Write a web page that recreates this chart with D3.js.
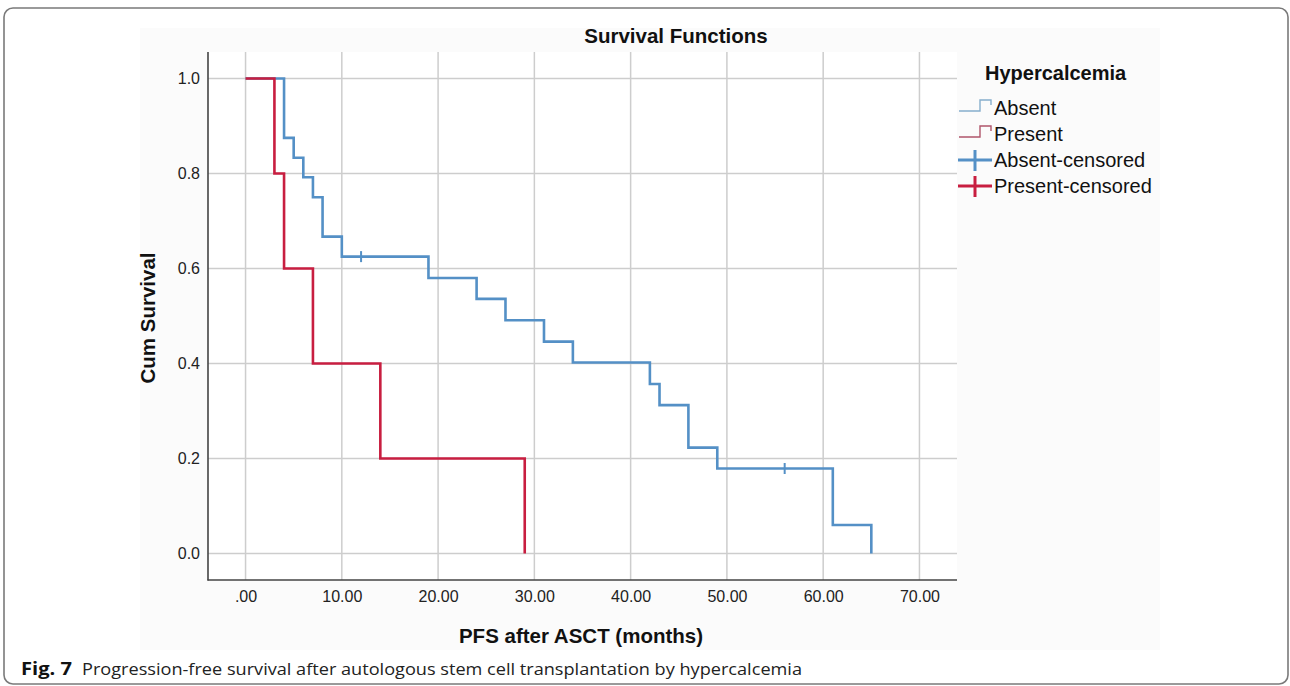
<!DOCTYPE html>
<html>
<head>
<meta charset="utf-8">
<script src="https://cdn.jsdelivr.net/npm/d3@7"></script>
<style>
  body { margin: 0; background: #fff; }
  svg { display: block; font-family: "Liberation Sans", Arial, sans-serif; }
</style>
</head>
<body>
<svg id="chart" width="1290" height="686"></svg>
<script>
// Kaplan-Meier steps
var absentTimes = [0, 4, 5, 6, 7, 8, 10, 19, 24, 27, 31, 34, 42, 43, 46, 49, 61, 65];
var absentSurv = [1.0, 0.875, 0.833, 0.792, 0.75, 0.667, 0.625, 0.58, 0.536, 0.491, 0.446, 0.402, 0.357, 0.3125, 0.223, 0.179, 0.06, 0.0];
var absentCensorTimes = [12, 56];
var absentCensorSurv = [0.625, 0.179];

var presentTimes = [0, 3, 4, 7, 14, 29];
var presentSurv = [1.0, 0.8, 0.6, 0.4, 0.2, 0.0];

var xTicks = [0, 10, 20, 30, 40, 50, 60, 70];
var yTicks = [0, 0.2, 0.4, 0.6, 0.8, 1.0];
var legendLabels = ["Absent", "Present", "Absent-censored", "Present-censored"];

var blue = "#5490c6";
var red = "#c81e40";

var svg = d3.select("#chart");

// outer figure frame
svg.append("rect")
  .attr("x", 4).attr("y", 8)
  .attr("width", 1284).attr("height", 676)
  .attr("rx", 9)
  .attr("fill", "#fff")
  .attr("stroke", "#7a7a7a")
  .attr("stroke-width", 1.6);

// spss chart background
svg.append("rect")
  .attr("x", 140).attr("y", 28)
  .attr("width", 1020).attr("height", 622)
  .attr("fill", "#fbfbfb");

var x = d3.scaleLinear().domain([-3.9, 73.9]).range([208, 957]);
var y = d3.scaleLinear().domain([-0.0557, 1.0557]).range([580, 52]);

svg.append("rect")
  .attr("x", 208).attr("y", 52)
  .attr("width", 749).attr("height", 528)
  .attr("fill", "#fff");

// grid
svg.append("g").selectAll("line")
  .data(xTicks).enter()
  .append("line")
  .attr("x1", function (d) { return x(d); })
  .attr("x2", function (d) { return x(d); })
  .attr("y1", 52).attr("y2", 580)
  .attr("stroke", "#cdcdcd").attr("stroke-width", 1.5);

svg.append("g").selectAll("line")
  .data(yTicks).enter()
  .append("line")
  .attr("x1", 208).attr("x2", 957)
  .attr("y1", function (d) { return y(d); })
  .attr("y2", function (d) { return y(d); })
  .attr("stroke", "#cdcdcd").attr("stroke-width", 1.5);

// axes
var xAxis = d3.axisBottom(x)
  .tickValues(xTicks)
  .tickSize(0)
  .tickPadding(11)
  .tickFormat(function (d) { return d === 0 ? ".00" : d3.format(".2f")(d); });

var yAxis = d3.axisLeft(y)
  .tickValues(yTicks)
  .tickSize(0)
  .tickPadding(8)
  .tickFormat(d3.format(".1f"));

var gx = svg.append("g").attr("transform", "translate(0,580)").call(xAxis);
var gy = svg.append("g").attr("transform", "translate(208,0)").call(yAxis);
[gx, gy].forEach(function (g) {
  g.select(".domain").remove();
  g.selectAll("text")
    .attr("font-family", "Liberation Sans, Arial, sans-serif")
    .attr("font-size", 16)
    .attr("fill", "#222");
});

svg.append("line")
  .attr("x1", 208).attr("x2", 208).attr("y1", 52).attr("y2", 580.5)
  .attr("stroke", "#444").attr("stroke-width", 1.6);
svg.append("line")
  .attr("x1", 207.5).attr("x2", 957).attr("y1", 580).attr("y2", 580)
  .attr("stroke", "#444").attr("stroke-width", 1.6);

// survival curves
var step = d3.line()
  .x(function (d) { return x(d[0]); })
  .y(function (d) { return y(d[1]); })
  .curve(d3.curveStepAfter);

svg.append("path")
  .datum(d3.zip(absentTimes, absentSurv))
  .attr("d", step)
  .attr("fill", "none")
  .attr("stroke", blue)
  .attr("stroke-width", 2.6);

svg.append("path")
  .datum(d3.zip(presentTimes, presentSurv))
  .attr("d", step)
  .attr("fill", "none")
  .attr("stroke", red)
  .attr("stroke-width", 2.6);

// censor marks
svg.append("g").selectAll("line")
  .data(d3.zip(absentCensorTimes, absentCensorSurv)).enter()
  .append("line")
  .attr("x1", function (d) { return x(d[0]); })
  .attr("x2", function (d) { return x(d[0]); })
  .attr("y1", function (d) { return y(d[1]) - 5.5; })
  .attr("y2", function (d) { return y(d[1]) + 5.5; })
  .attr("stroke", blue)
  .attr("stroke-width", 2);

// titles
svg.append("text")
  .attr("x", 676).attr("y", 43)
  .attr("text-anchor", "middle")
  .attr("font-size", 20.5).attr("font-weight", "bold")
  .attr("fill", "#111")
  .text("Survival Functions");

svg.append("text")
  .attr("x", 581).attr("y", 643)
  .attr("text-anchor", "middle")
  .attr("font-size", 20.5).attr("font-weight", "bold")
  .attr("fill", "#111")
  .text("PFS after ASCT (months)");

svg.append("text")
  .attr("transform", "translate(155,318) rotate(-90)")
  .attr("text-anchor", "middle")
  .attr("font-size", 20.5).attr("font-weight", "bold")
  .attr("fill", "#111")
  .text("Cum Survival");

// legend
var lg = svg.append("g");
lg.append("text")
  .attr("x", 985).attr("y", 80)
  .attr("font-size", 20).attr("font-weight", "bold")
  .attr("fill", "#111")
  .text("Hypercalcemia");

var legendColors = [blue, red, blue, red];
var legendSoft = ["#86aecd", "#b0566b"];
legendLabels.forEach(function (label, i) {
  var by = 115 + i * 26;
  var cy = by - 7;
  if (i < 2) {
    lg.append("path")
      .attr("d", "M959," + (cy + 3) + "H980V" + (cy - 8) + "H991V" + (cy - 3))
      .attr("fill", "none")
      .attr("stroke", legendSoft[i])
      .attr("stroke-width", 1.4);
  } else {
    lg.append("line")
      .attr("x1", 958).attr("x2", 992).attr("y1", cy).attr("y2", cy)
      .attr("stroke", legendColors[i]).attr("stroke-width", 3);
    lg.append("line")
      .attr("x1", 975).attr("x2", 975).attr("y1", cy - 10).attr("y2", cy + 11)
      .attr("stroke", legendColors[i]).attr("stroke-width", 3);
  }
  lg.append("text")
    .attr("x", 994).attr("y", by)
    .attr("font-size", 20)
    .attr("fill", "#111")
    .text(label);
});

// caption
svg.append("text")
  .attr("x", 21).attr("y", 675)
  .attr("font-family", "Open Sans, Noto Sans, sans-serif")
  .attr("font-size", 17).attr("font-weight", "bold")
  .attr("textLength", 51).attr("lengthAdjust", "spacingAndGlyphs")
  .attr("fill", "#111")
  .text("Fig. 7");

svg.append("text")
  .attr("x", 82).attr("y", 675)
  .attr("font-family", "Open Sans, Noto Sans, sans-serif")
  .attr("font-size", 17)
  .attr("textLength", 720).attr("lengthAdjust", "spacingAndGlyphs")
  .attr("fill", "#222")
  .text("Progression-free survival after autologous stem cell transplantation by hypercalcemia");
</script>
</body>
</html>
